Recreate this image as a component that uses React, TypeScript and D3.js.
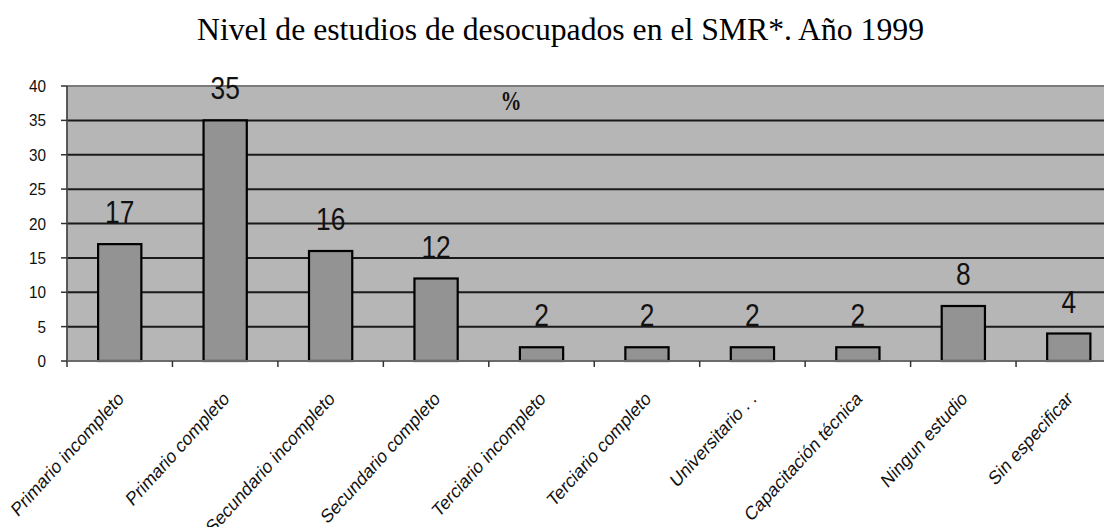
import React from "react";
import * as d3 from "d3";

const categories = [
  "Primario incompleto",
  "Primario completo",
  "Secundario incompleto",
  "Secundario completo",
  "Terciario incompleto",
  "Terciario completo",
  "Universitario . .",
  "Capacitación técnica",
  "Ningun estudio",
  "Sin especificar",
];
const values = [17, 35, 16, 12, 2, 2, 2, 2, 8, 4];
const yTicks = [0, 5, 10, 15, 20, 25, 30, 35, 40];
const title = "Nivel de estudios de desocupados en el SMR*. Año 1999";
const unitLabel = "%";

const W = 1104;
const H = 527;
const left = 67;
const step = 105.45;
const top = 86;
const bottom = 361;

export default function App() {
  const x = d3
    .scaleBand<string>()
    .domain(categories)
    .range([left, left + step * categories.length])
    .paddingInner(0.59)
    .paddingOuter(0.295);
  const y = d3.scaleLinear().domain([0, 40]).range([bottom, top]);
  const stp = x.step();
  const right = left + stp * categories.length;

  return (
    <svg
      width={W}
      height={H}
      style={{ position: "absolute", left: 0, top: 0, background: "#fff" }}
    >
      <text
        x={197}
        y={40}
        textAnchor="start"
        fontFamily="'Liberation Serif', 'Times New Roman', serif"
        fontSize={31.7}
        fill="#000"
      >
        {title}
      </text>

      <rect x={left} y={top} width={right - left} height={bottom - top} fill="#b6b6b6" />

      {yTicks.slice(1, -1).map((t) => (
        <line key={t} x1={left} x2={right} y1={y(t)} y2={y(t)} stroke="#1a1a1a" strokeWidth={2} />
      ))}
      <line x1={left} x2={right} y1={y(40)} y2={y(40)} stroke="#7a7a7a" strokeWidth={2} />

      <text
        transform="translate(511,110) scale(1,1.3)"
        textAnchor="middle"
        fontFamily="'Liberation Serif', 'Times New Roman', serif"
        fontSize={21}
        fontWeight="bold"
        fill="#111"
      >
        {unitLabel}
      </text>

      {categories.map((c, i) => (
        <rect
          key={c}
          x={x(c)}
          y={y(values[i])}
          width={x.bandwidth()}
          height={y(0) - y(values[i])}
          fill="#939393"
          stroke="#000"
          strokeWidth={2.2}
        />
      ))}

      {categories.map((c, i) => {
        const cx = (x(c) as number) + x.bandwidth() / 2;
        return (
          <text
            key={"v" + c}
            transform={`translate(${cx},${y(values[i]) - 21}) scale(0.85,1)`}
            textAnchor="middle"
            fontFamily="'Liberation Sans', Arial, sans-serif"
            fontSize={31}
            fill="#111"
          >
            {values[i]}
          </text>
        );
      })}

      {/* axes */}
      <line x1={left} x2={left} y1={top} y2={bottom + 1} stroke="#4a4a4a" strokeWidth={1.8} />
      <line x1={left} x2={right} y1={bottom} y2={bottom} stroke="#6a6a6a" strokeWidth={1.8} />

      {yTicks.map((t) => (
        <g key={"yt" + t}>
          <line x1={left - 6} x2={left} y1={y(t)} y2={y(t)} stroke="#333" strokeWidth={1.5} />
          <text
            transform={`translate(46,${y(t) + 6}) scale(0.9,1)`}
            textAnchor="end"
            fontFamily="'Liberation Sans', Arial, sans-serif"
            fontSize={17}
            fill="#111"
          >
            {t}
          </text>
        </g>
      ))}

      {d3.range(categories.length + 1).map((i) => (
        <line
          key={"xt" + i}
          x1={left + i * stp}
          x2={left + i * stp}
          y1={bottom}
          y2={bottom + 6}
          stroke="#333"
          strokeWidth={1.5}
        />
      ))}

      {categories.map((c) => {
        const cx = (x(c) as number) + x.bandwidth() / 2 + 5;
        return (
          <text
            key={"l" + c}
            transform={`translate(${cx},400) scale(0.85,1) rotate(-43)`}
            textAnchor="end"
            fontFamily="'Liberation Sans', Arial, sans-serif"
            fontSize={19.5}
            fill="#111"
          >
            {c}
          </text>
        );
      })}
    </svg>
  );
}
